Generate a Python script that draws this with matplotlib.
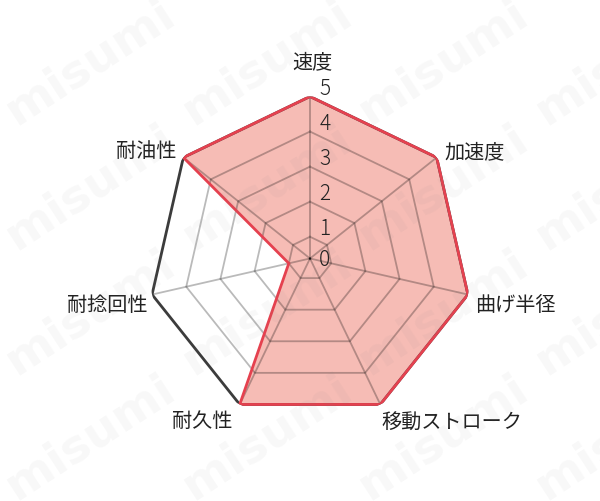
import numpy as np
import matplotlib
matplotlib.use('Agg')
import matplotlib.pyplot as plt

plt.rcParams['font.family'] = ['Noto Sans CJK JP', 'DejaVu Sans']

# -----------------------------------------------------------------------------
# données
# -----------------------------------------------------------------------------
categories = ['速度', '加速度', '曲げ半径', '移動ストローク', '耐久性', '耐捻回性', '耐油性']
values = [5, 5, 5, 5, 5, 1, 5]
ring_values = [1, 2, 3, 4, 5]
tick_labels = ['0', '1', '2', '3', '4', '5']

# label placement (pixel offset from the outer vertex, alignment)
label_offsets = [(2, 35), (8, 6), (7, -10), (1, -18), (-7, -16), (-5, -10), (-7, 7)]
label_ha = ['center', 'left', 'left', 'left', 'right', 'right', 'right']

rmin, rmax = 0.38, 5.0
n = len(categories)
theta = np.arange(n) * 2 * np.pi / n
theta_c = np.append(theta, theta[0])

# -----------------------------------------------------------------------------
# figure
# -----------------------------------------------------------------------------
fig = plt.figure(figsize=(6.0, 5.02), dpi=100)
ax = fig.add_axes([148 / 600, 80.5 / 502, 324 / 600, 324 / 502], projection='polar')
ax.set_theta_zero_location('N')
ax.set_theta_direction(-1)
ax.set_ylim(rmin, rmax)
ax.axis('off')

# zone rouge
vals_c = np.append(values, values[0])
ax.fill(theta_c, vals_c, color='#f6bcb5', zorder=1, lw=0)

# grille
for v in ring_values[:-1]:
    ax.plot(theta_c, [v] * (n + 1), color='black', alpha=0.27, lw=1.3, zorder=2,
            solid_joinstyle='miter')
for t in theta:
    ax.plot([t, t], [rmin, rmax], color='black', alpha=0.27, lw=1.3, zorder=2)
ax.plot(theta_c, [rmax] * (n + 1), color='#3c3c3c', lw=2.0, zorder=3,
        solid_joinstyle='miter')

# contour rouge
ax.plot(theta_c, vals_c, color='#e5414f', lw=2.0, zorder=4, solid_joinstyle='miter')

# graduations
for i, lab in enumerate(tick_labels):
    r = max(i, rmin)
    dy = 9 if i >= 1 else 0
    ax.annotate(lab, xy=(0, r), xytext=(15, dy), textcoords='offset pixels',
                ha='center', va='center', fontsize=15, color='#222222',
                fontweight='light', zorder=5)

# noms des axes
for t, lab, off, ha in zip(theta, categories, label_offsets, label_ha):
    ax.annotate(lab, xy=(t, rmax), xytext=off, textcoords='offset pixels',
                ha=ha, va='center', fontsize=14.5, color='#222222', zorder=5)

# filigrane
for yc in [63, 188, 313, 438]:
    for xc in [90, 267, 443, 620]:
        fig.text(xc / 600, 1 - yc / 502, 'misumi', rotation=33, ha='center', va='center',
                 fontsize=34, fontweight='bold', family='DejaVu Sans',
                 color='#808080', alpha=0.055, zorder=10)

fig.savefig('out.png', dpi=100)
